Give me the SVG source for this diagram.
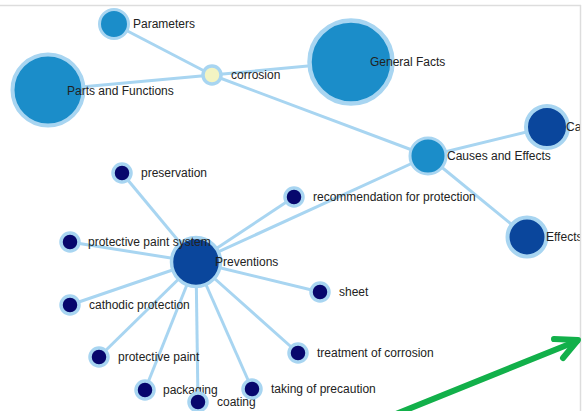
<svg xmlns="http://www.w3.org/2000/svg" width="582" height="411" viewBox="0 0 582 411">
<style>
  .link { stroke: #a8d5f1; stroke-width: 3; fill: none; }
  .node circle { stroke: #a8d5f1; }
  .mid { fill: #1b8dc9; }
  .dark { fill: #0a469c; }
  .navy { fill: #07076d; }
  .root { fill: #f3f4c3; }
  .small { stroke-width: 3.5; }
  text { font-family: "Liberation Sans", Arial, sans-serif; font-size: 12px; fill: #222; }
  .border { stroke: #dddddd; stroke-width: 1.5; fill: none; }
  .green { stroke: #12b04a; stroke-width: 6; fill: none; stroke-linecap: round; stroke-linejoin: round; }
</style>
<defs>
  <clipPath id="frame"><rect x="0" y="5" width="580" height="406"/></clipPath>
</defs>
<rect x="0" y="0" width="582" height="411" fill="#ffffff"/>
<g clip-path="url(#frame)">
<g id="links">
  <line class="link" x1="212" y1="75" x2="114" y2="24"/>
  <line class="link" x1="212" y1="75" x2="48" y2="90"/>
  <line class="link" x1="212" y1="75" x2="351" y2="62"/>
  <line class="link" x1="212" y1="75" x2="428" y2="156"/>
  <line class="link" x1="428" y1="156" x2="547" y2="127"/>
  <line class="link" x1="428" y1="156" x2="527" y2="237"/>
  <line class="link" x1="428" y1="156" x2="196" y2="262"/>
  <line class="link" x1="196" y1="262" x2="122" y2="173"/>
  <line class="link" x1="196" y1="262" x2="294" y2="197"/>
  <line class="link" x1="196" y1="262" x2="70" y2="242"/>
  <line class="link" x1="196" y1="262" x2="70" y2="305"/>
  <line class="link" x1="196" y1="262" x2="320" y2="292"/>
  <line class="link" x1="196" y1="262" x2="298" y2="353"/>
  <line class="link" x1="196" y1="262" x2="99" y2="357"/>
  <line class="link" x1="196" y1="262" x2="145" y2="390"/>
  <line class="link" x1="196" y1="262" x2="198" y2="402"/>
  <line class="link" x1="196" y1="262" x2="252" y2="389"/>
</g>
<g id="node-parameters" class="node"><circle class="mid" cx="114" cy="24" r="14.5" stroke-width="3"/><text x="133" y="28">Parameters</text></g>
<g id="node-parts" class="node"><circle class="mid" cx="48" cy="90" r="35.5" stroke-width="4"/><text x="67" y="95">Parts and Functions</text></g>
<g id="node-general" class="node"><circle class="mid" cx="351" cy="62" r="41.5" stroke-width="4.5"/><text x="370" y="66">General Facts</text></g>
<g id="node-corrosion" class="node"><circle class="root" cx="212" cy="75" r="9" stroke-width="3.5"/><text x="231" y="79">corrosion</text></g>
<g id="node-causes-effects" class="node"><circle class="mid" cx="428" cy="156" r="18" stroke-width="3"/><text x="447" y="160">Causes and Effects</text></g>
<g id="node-ca" class="node"><circle class="dark" cx="547" cy="127" r="21" stroke-width="4"/><text x="566" y="131">Ca</text></g>
<g id="node-effects" class="node"><circle class="dark" cx="527" cy="237" r="19.5" stroke-width="4"/><text x="546" y="241">Effects</text></g>
<g id="node-preventions" class="node"><circle class="dark" cx="196" cy="262" r="24.5" stroke-width="3.5"/><text x="215" y="266">Preventions</text></g>
<g id="node-preservation" class="node"><circle class="navy small" cx="122" cy="173" r="9"/><text x="141" y="177">preservation</text></g>
<g id="node-recommendation" class="node"><circle class="navy small" cx="294" cy="197" r="9"/><text x="313" y="201">recommendation for protection</text></g>
<g id="node-protective-paint-system" class="node"><circle class="navy small" cx="70" cy="242" r="9"/><text x="88" y="246">protective paint system</text></g>
<g id="node-cathodic" class="node"><circle class="navy small" cx="70" cy="305" r="9"/><text x="89" y="309">cathodic protection</text></g>
<g id="node-sheet" class="node"><circle class="navy small" cx="320" cy="292" r="9"/><text x="339" y="296">sheet</text></g>
<g id="node-treatment" class="node"><circle class="navy small" cx="298" cy="353" r="9"/><text x="317" y="357">treatment of corrosion</text></g>
<g id="node-protective-paint" class="node"><circle class="navy small" cx="99" cy="357" r="9"/><text x="118" y="361">protective paint</text></g>
<g id="node-packaging" class="node"><circle class="navy small" cx="145" cy="390" r="9"/><text x="163" y="394">packaging</text></g>
<g id="node-coating" class="node"><circle class="navy small" cx="198" cy="402" r="9"/><text x="217" y="406">coating</text></g>
<g id="node-taking" class="node"><circle class="navy small" cx="252" cy="389" r="9"/><text x="271" y="393">taking of precaution</text></g>
</g>
<line class="border" x1="0" y1="5.5" x2="581" y2="5.5"/>
<line class="border" x1="580.5" y1="5" x2="580.5" y2="411"/>
<g id="green-arrow">
  <line class="green" x1="396" y1="414" x2="577" y2="341"/>
  <polyline class="green" points="554,339 578,340 563,358"/>
</g>
</svg>
